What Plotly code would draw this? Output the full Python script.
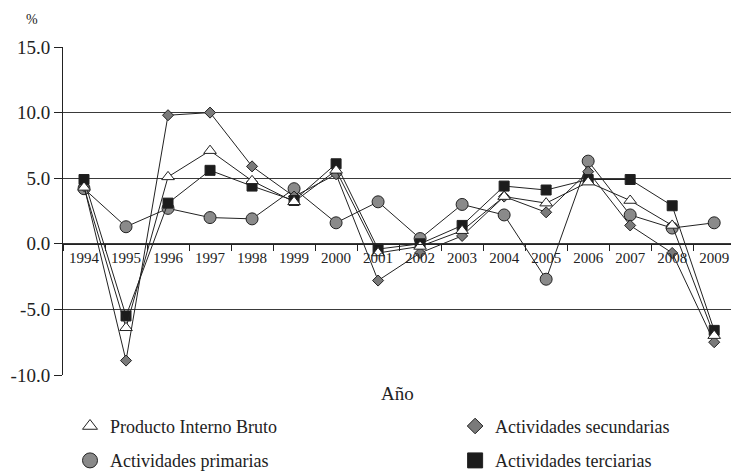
import plotly.graph_objects as go

years = ["1994", "1995", "1996", "1997", "1998", "1999", "2000", "2001",
         "2002", "2003", "2004", "2005", "2006", "2007", "2008", "2009"]
pib = [4.3, -6.4, 5.1, 7.1, 4.8, 3.2, 5.6, -0.7, -0.2, 1.0, 3.6, 3.1, 4.7, 3.3, 1.4, -7.0]
secundarias = [4.4, -8.9, 9.8, 10.0, 5.9, 3.6, 5.3, -2.8, -0.7, 0.6, 3.6, 2.4, 5.5, 1.4, -0.7, -7.5]
primarias = [4.2, 1.3, 2.7, 2.0, 1.9, 4.2, 1.6, 3.2, 0.4, 3.0, 2.2, -2.7, 6.3, 2.2, 1.2, 1.6]
terciarias = [4.9, -5.5, 3.1, 5.6, 4.4, 3.3, 6.1, -0.4, 0.0, 1.4, 4.4, 4.1, 4.9, 4.9, 2.9, -6.6]
y_ticks = [-10, -5, 0, 5, 10, 15]
y_tick_text = ["-10.0", "-5.0", "0.0", "5.0", "10.0", "15.0"]

FONT = "Liberation Serif"
TXT = "#222222"
LINE = "#222222"

series = [
    # name, values, symbol, size, fill, legend, legend marker size
    ("Actividades primarias", primarias, "circle", 12, "#8a8a8a", "legend", 15),
    ("Actividades secundarias", secundarias, "diamond", 8.5, "#7a7a7a", "legend2", 12),
    ("Actividades terciarias", terciarias, "square", 10, "#1c1c1c", "legend2", 15),
    ("Producto Interno Bruto", pib, "triangle-up", 11, "#ffffff", "legend", 13),
]
rank = {"Producto Interno Bruto": 1, "Actividades primarias": 2,
        "Actividades secundarias": 1, "Actividades terciarias": 2}

fig = go.Figure()
for name, vals, sym, size, fill, leg, lsize in series:
    fig.add_trace(go.Scatter(
        x=years, y=vals, mode="lines+markers", name=name, showlegend=False,
        line=dict(color=LINE, width=1),
        marker=dict(symbol=sym, size=size, color=fill,
                    line=dict(color="#222222", width=1)),
    ))
for name, vals, sym, size, fill, leg, lsize in series:
    fig.add_trace(go.Scatter(
        x=[None], y=[None], mode="markers", name=name, legend=leg,
        legendrank=rank[name], legendgroup=name,
        marker=dict(symbol=sym, size=lsize, color=fill,
                    line=dict(color="#222222", width=1)),
    ))

fig.update_layout(
    width=731, height=472,
    margin=dict(l=63, r=0, t=47, b=97, autoexpand=False),
    paper_bgcolor="white", plot_bgcolor="white",
    font=dict(family=FONT, color=TXT),
    xaxis=dict(
        type="category", categoryorder="array", categoryarray=years,
        range=[-0.5, 15.4], anchor="free", position=0.4,
        showline=True, linecolor=LINE, linewidth=1,
        ticks="outside", ticklen=6, tickcolor=LINE, tickson="boundaries",
        showgrid=False, tickfont=dict(family=FONT, size=15, color=TXT),
        fixedrange=True,
    ),
    yaxis=dict(
        range=[-10, 15], tickvals=y_ticks, ticktext=y_tick_text,
        showline=True, linecolor=LINE, linewidth=1,
        ticks="outside", ticklen=8, tickcolor=LINE,
        showgrid=True, gridcolor="#3a3a3a", gridwidth=1, zeroline=False,
        tickfont=dict(family=FONT, size=19, color=TXT),
    ),
    legend=dict(x=0.0105, y=-0.1, xanchor="left", yanchor="top",
                orientation="v", font=dict(family=FONT, size=18, color=TXT),
                tracegroupgap=8, bgcolor="rgba(0,0,0,0)", borderwidth=0),
    legend2=dict(x=0.587, y=-0.1, xanchor="left", yanchor="top",
                 orientation="v", font=dict(family=FONT, size=18, color=TXT),
                 tracegroupgap=8, bgcolor="rgba(0,0,0,0)", borderwidth=0),
    annotations=[
        dict(text="Año", xref="paper", yref="paper", x=0.5, y=-0.055,
             xanchor="center", yanchor="middle", showarrow=False,
             font=dict(family=FONT, size=19, color=TXT)),
        dict(text="%", xref="paper", yref="paper", x=-0.0464, y=1.085,
             xanchor="center", yanchor="middle", showarrow=False,
             font=dict(family=FONT, size=14, color=TXT)),
    ],
)

fig.write_html(
    "out.html",
    config={"displayModeBar": False},
    post_script="document.body.style.margin='0';document.body.style.overflow='hidden';",
)
